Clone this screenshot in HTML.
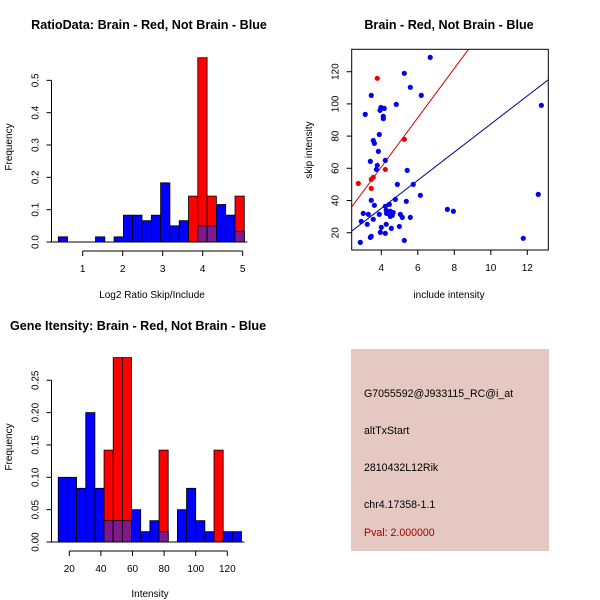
<!DOCTYPE html>
<html><head><meta charset="utf-8"><style>
html,body{margin:0;padding:0;background:#fff;}
svg{display:block;font-family:"Liberation Sans",sans-serif;}
</style></head><body>
<svg id="c" width="600" height="600" viewBox="0 0 600 600">
<rect width="600" height="600" fill="#fff"/>
<text x="149" y="29" font-size="12.6" font-weight="bold" text-anchor="middle">RatioData: Brain - Red, Not Brain - Blue</text>
<text x="152" y="298" font-size="10" text-anchor="middle">Log2 Ratio Skip/Include</text>
<text transform="translate(12,147) rotate(-90)" font-size="10" text-anchor="middle">Frequency</text>
<text x="449" y="29" font-size="12.6" font-weight="bold" text-anchor="middle">Brain - Red, Not Brain - Blue</text>
<text x="449" y="298" font-size="10" text-anchor="middle">include intensity</text>
<text transform="translate(312,150) rotate(-90)" font-size="10" text-anchor="middle">skip intensity</text>
<text x="10" y="330" font-size="12.6" font-weight="bold">Gene Itensity: Brain - Red, Not Brain - Blue</text>
<text x="150" y="597" font-size="10" text-anchor="middle">Intensity</text>
<text transform="translate(12,447) rotate(-90)" font-size="10" text-anchor="middle">Frequency</text>
<g>
<rect x="351" y="349" width="198" height="202" fill="#e6c8c2"/>
<text x="364" y="397" font-size="10.6">G7055592@J933115_RC@i_at</text>
<text x="364" y="434" font-size="10.6">altTxStart</text>
<text x="364" y="471" font-size="10.6">2810432L12Rik</text>
<text x="364" y="508" font-size="10.6">chr4.17358-1.1</text>
<text x="364" y="536" font-size="10.6" fill="#a00000">Pval: 2.000000</text>
</g>
<g id="h1"></g><g id="sc"></g><g id="h2"></g>
</svg>
<script>
// Ratio histogram data
const ratioBinStart = 0.39, ratioBinWidth = 0.2325;
const ratioBlue = [0.016,0,0,0,0.016,0,0.016,0.083,0.083,0.066,0.083,0.183,0.05,0.066,0,0.05,0.05,0.116,0.083,0.033];
const ratioRed  = [0,0,0,0,0,0,0,0,0,0,0,0,0,0,0.142,0.57,0.142,0,0,0.142];
const ratioXTicks = [1,2,3,4,5];
const ratioYTicks = [0.0,0.1,0.2,0.3,0.4,0.5];
const ratioYLabels = ["0.0","0.1","0.2","0.3","0.4","0.5"];
// Intensity histogram data
const intBinStart = 13, intBinWidth = 5.8;
const intBlue = [0.1,0.1,0.083,0.2,0.083,0.033,0.033,0.033,0.05,0.016,0.033,0.016,0,0.05,0.083,0.033,0.016,0,0.016,0.016];
const intRed  = [0,0,0,0,0,0.142,0.285,0.285,0,0,0,0.142,0,0,0,0,0,0.142,0,0];
const intXTicks = [20,40,60,80,100,120];
const intYTicks = [0,0.05,0.1,0.15,0.2,0.25];
const intYLabels = ["0.00","0.05","0.10","0.15","0.20","0.25"];
// Scatter data
const blueX = [6.68,5.26,5.59,6.19,3.45,4.82,3.98,4.16,3.93,3.12,4.11,4.11,3.89,3.56,3.62,3.84,4.22,3.4,3.78,3.73,5.42,4.88,5.75,6.14,12.6,12.77,3.45,4.77,5.37,3.62,4.44,4.22,7.62,7.95,4.27,4.49,4.65,4.29,3.01,3.29,3.89,5.04,4.6,5.15,4.49,5.59,3.56,2.9,3.23,4.27,4,4.99,4.55,3.95,4.22,3.45,3.4,5.26,2.85,11.78];
const blueY = [128.9,119,110.3,105.3,105.3,99.7,97.8,97.2,96,93.5,92.3,90.8,81,77.3,75.5,70.5,64.9,64.3,61.8,59.3,58.7,50,50,43.2,43.8,99.1,40.1,40.7,39.5,37,37.6,36.4,34.5,33.3,33.9,33.3,32.6,32,32,31.4,31.4,31.4,30.8,29.5,30.1,29.5,28.3,27,25.2,25.2,23.3,23.9,22.7,20.2,19.6,17.7,17.1,15.2,14,16.5];
const redX = [3.78,5.26,4.22,3.56,3.45,2.74,3.45];
const redY = [115.9,78,59.3,54.4,53.1,50.6,47.5];
const redFit = [-0.4,15.3];
const blueFit = [0.2,8.73];
const scXTicks = [4,6,8,10,12];
const scYTicks = [20,40,60,80,100,120];

const NS="http://www.w3.org/2000/svg";
function mk(p,t,a){const e=document.createElementNS(NS,t);for(const k in a)e.setAttribute(k,a[k]);p.appendChild(e);return e;}

function hist(g,cfg){
  const X=v=>cfg.x0+(v-cfg.v0)*cfg.xs, Y=v=>cfg.y0-v*cfg.ys;
  cfg.blue.forEach((b,i)=>{
    const l=X(cfg.bs+i*cfg.bw), r=X(cfg.bs+(i+1)*cfg.bw), rd=cfg.red[i];
    if(b>0){const e=mk(g,'rect',{x:l,y:Y(b),width:r-l,height:Y(0)-Y(b),fill:'#0000ff',stroke:'#000','stroke-width':0.8});
      
      }
    if(rd>0){const e=mk(g,'rect',{x:l,y:Y(rd),width:r-l,height:Y(0)-Y(rd),fill:'#ff0000',stroke:'#000','stroke-width':0.8});
      
      
      const m=Math.min(b,rd);
      if(m>0){const o=mk(g,'rect',{x:l,y:Y(m),width:r-l,height:Y(0)-Y(m),fill:'#7f1a8c',stroke:'#000','stroke-width':0.8});
        
        }}
  });
  mk(g,'line',{x1:cfg.ax,x2:X(cfg.bs+cfg.blue.length*cfg.bw)+3,y1:Y(0),y2:Y(0),stroke:'#000'});
  const yt=cfg.yt;
  mk(g,'line',{x1:cfg.ax,x2:cfg.ax,y1:Y(yt[0]),y2:Y(yt[yt.length-1]),stroke:'#000'});
  yt.forEach((v,i)=>{mk(g,'line',{x1:cfg.ax-5,x2:cfg.ax,y1:Y(v),y2:Y(v),stroke:'#000'});
    const t=mk(g,'text',{transform:`translate(${cfg.ax-13},${Y(v)}) rotate(-90)`,'font-size':10,'text-anchor':'middle'});
    t.textContent=cfg.yl[i];
    
    });
  const xt=cfg.xt;
  mk(g,'line',{x1:X(xt[0]),x2:X(xt[xt.length-1]),y1:cfg.axy,y2:cfg.axy,stroke:'#000'});
  xt.forEach(v=>{mk(g,'line',{x1:X(v),x2:X(v),y1:cfg.axy,y2:cfg.axy+5,stroke:'#000'});
    const t=mk(g,'text',{x:X(v),y:cfg.axy+21,'font-size':10,'text-anchor':'middle'});
    t.textContent=v;
    
    });
}
hist(document.getElementById('h1'),{x0:82.7,v0:1,xs:40,y0:242,ys:323.3,bs:ratioBinStart,bw:ratioBinWidth,blue:ratioBlue,red:ratioRed,ax:51.5,axy:251,xt:ratioXTicks,yt:ratioYTicks,yl:ratioYLabels});
hist(document.getElementById('h2'),{x0:69.3,v0:20,xs:1.58,y0:542,ys:647,bs:intBinStart,bw:intBinWidth,blue:intBlue,red:intRed,ax:51.5,axy:551,xt:intXTicks,yt:intYTicks,yl:intYLabels});

(function(){
  const g=document.getElementById('sc');
  const L=351.7,R=548.3,T=49.3,B=250;
  const X=v=>381.3+(v-4)*18.25, Y=v=>232.7-(v-20)*1.61;
  const Xi=p=>(p-381.3)/18.25+4;
  const cp=mk(g,'clipPath',{id:'cp'});mk(cp,'rect',{x:L,y:T,width:R-L,height:B-T});
  const lines=mk(g,'g',{'clip-path':'url(#cp)'});
  [[redFit,'#cc0000','red-fit-line'],[blueFit,'#00008b','blue-fit-line']].forEach(([f,c,n])=>{
    const x1=Xi(L),x2=Xi(R);
    const e=mk(lines,'line',{x1:L,x2:R,y1:Y(f[0]+f[1]*x1),y2:Y(f[0]+f[1]*x2),stroke:c,'stroke-width':1});
    
    });
  blueX.forEach((x,i)=>{const e=mk(g,'circle',{cx:X(x),cy:Y(blueY[i]),r:2.6,fill:'#0000ee'});
    
    });
  redX.forEach((x,i)=>{const e=mk(g,'circle',{cx:X(x),cy:Y(redY[i]),r:2.6,fill:'#ee0000'});
    
    });
  mk(g,'rect',{x:L,y:T,width:R-L,height:B-T,fill:'none',stroke:'#000'});
  scXTicks.forEach(v=>{mk(g,'line',{x1:X(v),x2:X(v),y1:B,y2:B+5,stroke:'#000'});
    const t=mk(g,'text',{x:X(v),y:B+21,'font-size':10,'text-anchor':'middle'});
    t.textContent=v;
    
    });
  scYTicks.forEach(v=>{mk(g,'line',{x1:L-5,x2:L,y1:Y(v),y2:Y(v),stroke:'#000'});
    const t=mk(g,'text',{transform:`translate(${L-13},${Y(v)}) rotate(-90)`,'font-size':10,'text-anchor':'middle'});
    t.textContent=v;
    
    });
})();
</script>
</body></html>
